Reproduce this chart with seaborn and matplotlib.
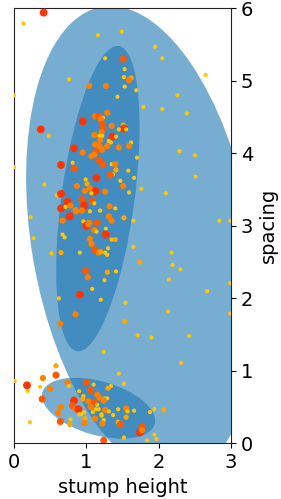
import numpy as np
import pandas as pd
import seaborn as sns
import matplotlib
matplotlib.use("Agg")
import matplotlib.pyplot as plt
from matplotlib.patches import Ellipse

# Y=.22  YO=.35  O=.5  OR=.65  R=.8  (autumn_r position of each dot)
stump_height = [
    0.41, 0.13, 1.16, 1.49, 1.95, 2.05, 1.26, 1.51, 1.53, 1.52, 1.62, 1.59, 1.53, 1.69, 2.65, 0.76, 1.04, 1.27, 0.00, 1.43,
    2.26, 1.79, 2.05, 2.39, 1.29, 1.12, 1.17, 1.23, 1.20, 0.95, 1.22, 1.35, 1.51, 1.52, 1.55, 1.45, 1.23, 1.21, 1.11, 1.18,
    1.22, 1.36, 1.41, 1.19, 1.31, 1.34, 1.62, 1.12, 1.18, 1.29, 1.45, 1.59, 0.83, 1.22, 1.13, 0.95, 1.11, 1.07, 1.70, 1.18,
    0.81, 0.65, 1.23, 1.35, 1.40, 0.83, 1.41, 1.58, 1.37, 1.33, 1.66, 1.14, 0.99, 1.47, 1.01, 1.05, 0.87, 1.51, 1.76, 0.98,
    1.13, 1.07, 1.26, 1.59, 0.59, 0.65, 0.94, 1.08, 0.65, 0.74, 0.78, 0.71, 1.11, 0.97, 0.85, 0.86, 0.94, 1.05, 1.19, 1.32,
    1.40, 0.77, 0.67, 0.96, 1.31, 1.35, 1.52, 1.65, 1.04, 1.15, 1.00, 1.03, 1.27, 1.11, 1.14, 0.67, 0.70, 1.27, 1.05, 1.35,
    1.40, 1.07, 0.65, 0.91, 1.12, 1.17, 1.20, 1.26, 1.29, 1.30, 1.65, 1.74, 0.99, 1.29, 1.41, 1.02, 1.25, 1.08, 0.91, 0.62,
    1.20, 0.52, 2.18, 2.19, 2.30, 2.14, 2.99, 1.54, 2.67, 2.13, 2.99, 0.85, 1.53, 0.64, 1.71, 1.90, 2.42, 1.24, 2.31, 0.58,
    1.45, 0.58, 0.40, 0.01, 0.18, 0.19, 0.36, 1.52, 0.22, 1.94, 2.07, 1.94, 1.97, 1.84, 1.74, 1.77, 1.77, 1.52, 1.24, 0.50,
    0.74, 0.76, 0.90, 1.00, 1.10, 1.06, 1.34, 1.30, 0.39, 0.96, 1.15, 1.18, 1.25, 1.29, 1.24, 0.95, 1.03, 0.83, 1.11, 1.15,
    1.06, 0.81, 0.65, 0.85, 0.89, 0.97, 1.13, 1.17, 1.09, 1.26, 1.31, 1.37, 1.44, 1.55, 1.57, 1.66, 1.88, 0.61, 0.90, 0.93,
    1.21, 1.21, 0.98, 1.12, 1.24, 1.55, 1.44, 1.47, 0.64, 0.78, 0.77, 0.97, 1.22, 0.37, 0.48, 0.00, 0.42, 0.23, 0.27, 2.29,
    2.50, 2.51, 2.10, 2.84, 2.99,
]
spacing = [
    5.94, 5.79, 5.63, 5.68, 5.47, 5.31, 5.31, 5.30, 5.16, 5.05, 5.04, 5.01, 4.92, 4.87, 5.08, 5.02, 4.93, 4.93, 4.80, 4.78,
    4.80, 4.64, 4.61, 4.55, 4.56, 4.51, 4.51, 4.49, 4.47, 4.44, 4.40, 4.38, 4.39, 4.34, 4.33, 4.33, 4.34, 4.29, 4.25, 4.24,
    4.24, 4.23, 4.23, 4.18, 4.17, 4.15, 4.15, 4.12, 4.10, 4.10, 4.08, 4.10, 4.07, 4.05, 4.02, 4.01, 3.98, 3.96, 3.94, 3.90,
    3.87, 3.84, 3.84, 3.85, 3.85, 3.79, 3.77, 3.76, 3.71, 3.70, 3.66, 3.66, 3.64, 3.62, 3.58, 3.52, 3.55, 3.55, 3.51, 3.48,
    3.48, 3.45, 3.47, 3.46, 3.42, 3.44, 3.36, 3.34, 3.24, 3.33, 3.28, 3.26, 3.31, 3.28, 3.22, 3.20, 3.21, 3.20, 3.21, 3.27,
    3.24, 3.13, 3.07, 3.06, 3.13, 3.07, 3.11, 3.07, 3.04, 3.04, 3.00, 3.02, 2.96, 2.94, 2.92, 2.88, 2.84, 2.88, 2.82, 2.81,
    2.81, 2.75, 2.63, 2.63, 2.67, 2.63, 2.64, 2.63, 2.60, 2.69, 2.71, 2.50, 2.38, 2.36, 2.37, 2.29, 2.25, 2.13, 2.05, 2.00,
    1.98, 2.62, 2.63, 2.46, 2.40, 2.26, 2.21, 1.94, 2.10, 1.82, 1.79, 1.78, 1.68, 1.65, 1.49, 1.46, 1.48, 1.26, 1.11, 1.07,
    0.96, 0.94, 0.90, 0.86, 0.80, 0.72, 0.78, 0.82, 0.29, 0.47, 0.46, 0.12, 0.06, 0.04, 0.15, 0.23, 0.18, 0.08, 0.04, 0.75,
    0.84, 0.79, 0.72, 0.84, 0.81, 0.73, 0.79, 0.76, 0.61, 0.65, 0.67, 0.63, 0.62, 0.62, 0.59, 0.61, 0.58, 0.59, 0.56, 0.53,
    0.50, 0.52, 0.50, 0.47, 0.47, 0.43, 0.47, 0.47, 0.43, 0.46, 0.44, 0.39, 0.47, 0.48, 0.44, 0.45, 0.43, 0.42, 0.40, 0.40,
    0.40, 0.38, 0.34, 0.34, 0.32, 0.36, 0.29, 0.26, 0.30, 0.33, 0.26, 0.28, 0.27, 4.33, 4.24, 3.81, 3.57, 3.12, 2.83, 4.03,
    3.97, 3.68, 3.45, 3.07, 3.07,
]
level = [
    .80, .22, .22, .22, .22, .22, .22, .65, .22, .22, .35, .50, .22, .22, .22, .22, .50, .50, .22, .22,
    .22, .22, .22, .22, .50, .50, .65, .22, .50, .80, .65, .50, .35, .80, .22, .22, .65, .50, .50, .22,
    .22, .80, .22, .50, .22, .22, .22, .50, .50, .50, .50, .50, .80, .50, .65, .50, .50, .50, .22, .65,
    .22, .80, .65, .22, .50, .65, .35, .22, .22, .65, .22, .80, .22, .22, .35, .50, .50, .50, .22, .50,
    .80, .22, .50, .22, .22, .80, .65, .65, .80, .80, .50, .22, .22, .80, .50, .50, .50, .22, .22, .50,
    .22, .80, .50, .22, .50, .50, .35, .22, .50, .65, .80, .50, .22, .50, .22, .22, .22, .80, .50, .22,
    .35, .50, .35, .22, .65, .50, .35, .22, .22, .22, .22, .35, .65, .35, .22, .50, .22, .22, .80, .22,
    .22, .22, .22, .22, .22, .22, .22, .22, .22, .22, .22, .50, .35, .50, .22, .22, .22, .22, .22, .35,
    .22, .65, .50, .22, .80, .22, .22, .22, .22, .22, .35, .22, .22, .22, .80, .65, .50, .22, .65, .50,
    .50, .22, .22, .65, .22, .65, .22, .35, .65, .22, .50, .50, .22, .22, .50, .35, .50, .80, .65, .22,
    .50, .65, .50, .50, .80, .22, .22, .22, .22, .50, .22, .22, .22, .50, .22, .22, .22, .50, .22, .22,
    .22, .22, .35, .50, .22, .35, .35, .65, .65, .22, .35, .50, .50, .80, .22, .22, .22, .22, .22, .22,
    .22, .22, .22, .22, .22,
]

# mixture components (centre, full width/height, angle in degrees)
ell_x = [1.766, 1.16, 1.168]
ell_y = [2.787, 3.375, 0.484]
ell_w = [6.558, 4.25, 1.612]
ell_h = [3.043, 1.01, 0.744]
ell_angle = [99.72, 82.25, 164.22]

df = pd.DataFrame({"stump height": stump_height, "spacing": spacing, "level": level})

sns.set_style("ticks")
plt.rcParams["font.family"] = ["DejaVu Sans"]
plt.rcParams["text.color"] = "black"
plt.rcParams["axes.labelcolor"] = "black"

fig = plt.figure(figsize=(2.81, 4.99), dpi=100)
ax = fig.add_axes([14 / 281, 1 - 443.3 / 499, 217 / 281, 435 / 499])

# gaussian components, drawn under the points
for cx, cy, w, h, a in zip(ell_x, ell_y, ell_w, ell_h, ell_angle):
    ax.add_patch(Ellipse((cx, cy), w, h, angle=a, facecolor="C0", alpha=0.6, lw=0, zorder=1))

sns.scatterplot(data=df, x="stump height", y="spacing", hue="level", size="level",
                palette="autumn_r", hue_norm=(0, 1), sizes=(9, 32), size_norm=(0.22, 0.8),
                linewidth=0, legend=False, ax=ax, zorder=3)

ax.set_xlim(0, 3)
ax.set_ylim(0, 6)
ax.set_xticks([0, 1, 2, 3])
ax.set_yticks([0, 1, 2, 3, 4, 5, 6])
ax.yaxis.tick_right()
ax.yaxis.set_label_position("right")
ax.tick_params(labelsize=14, colors="black")
ax.set_xlabel("stump height", fontsize=14)
ax.set_ylabel("spacing", fontsize=14)
for s in ax.spines.values():
    s.set_color("#222222")

fig.savefig("out.png", dpi=100)
